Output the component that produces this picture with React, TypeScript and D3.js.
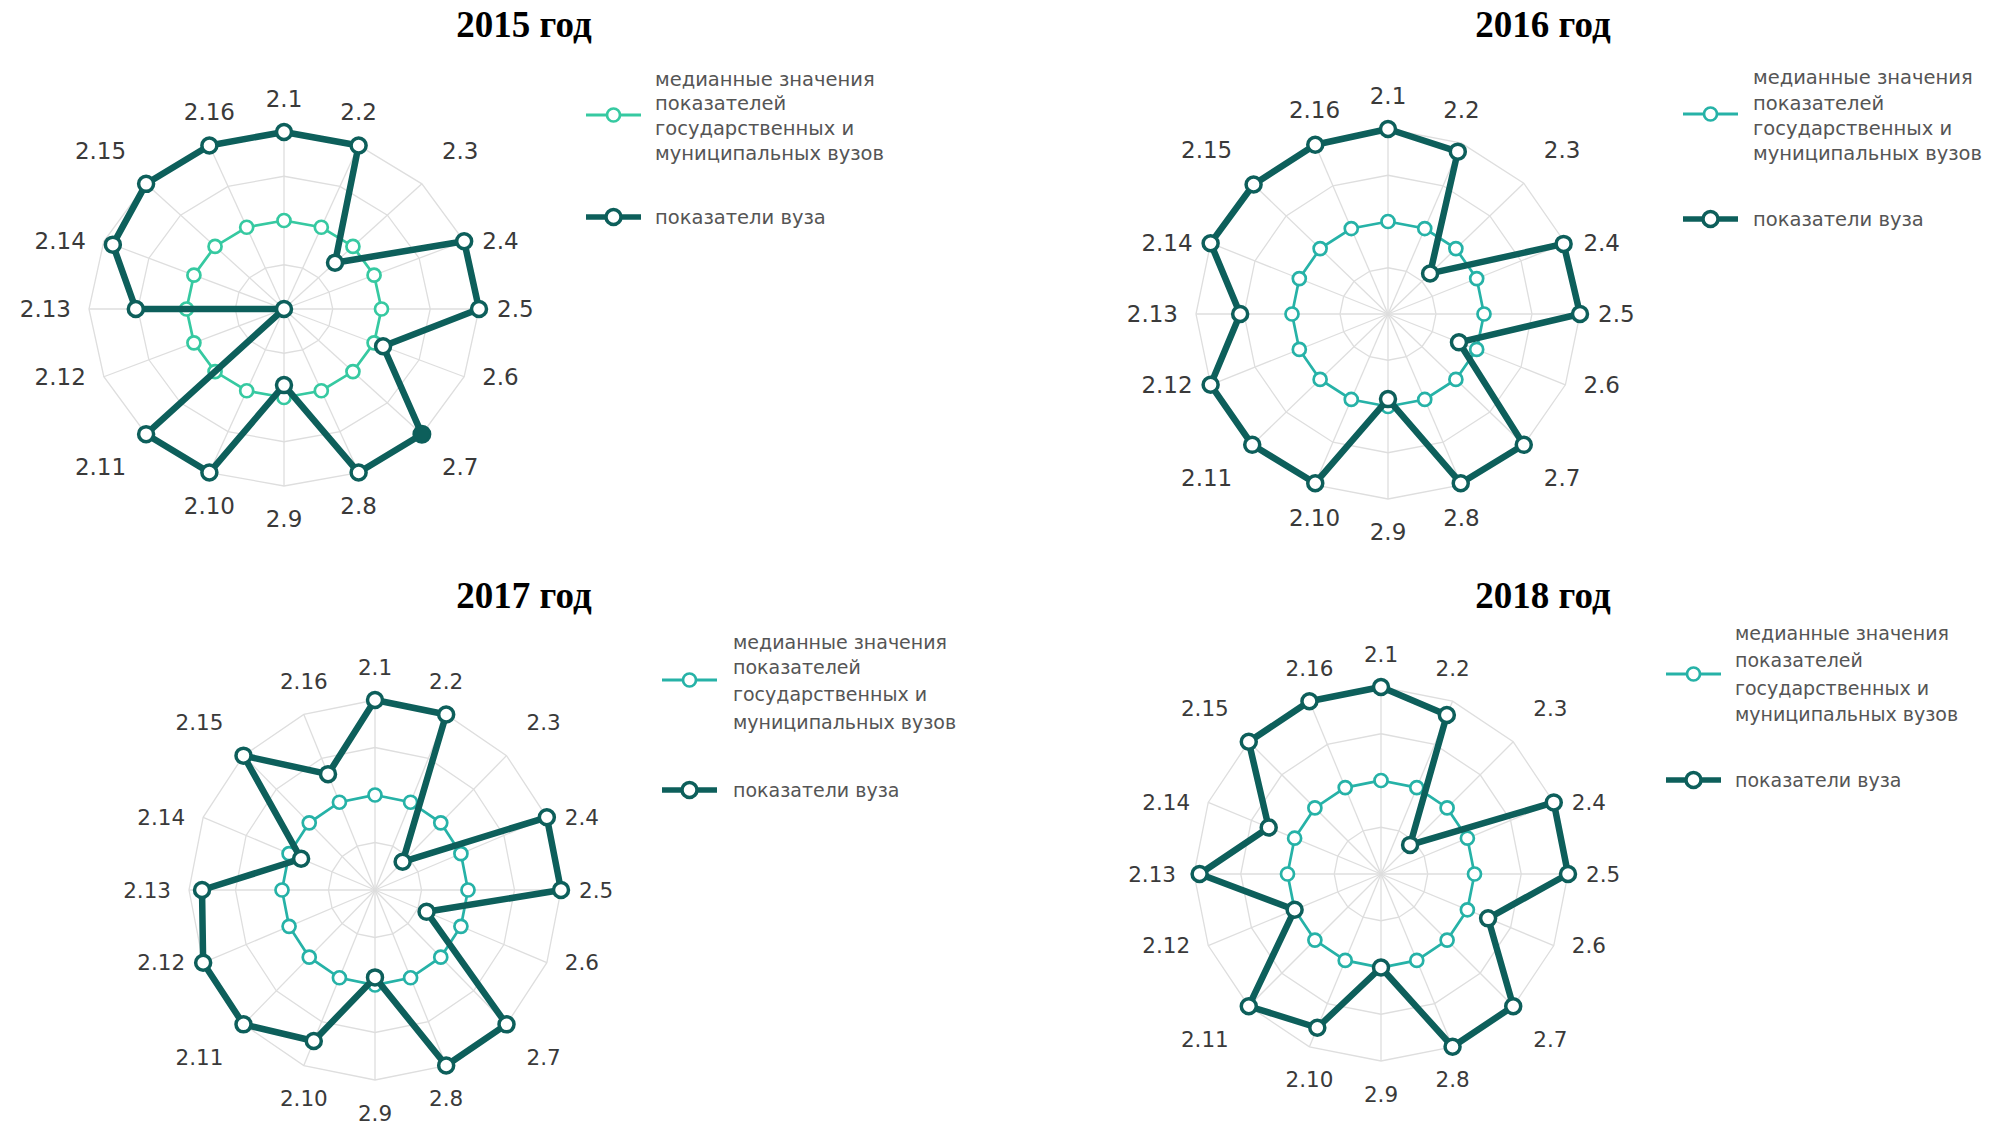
import React from 'react';
import * as d3 from 'd3';

const axisLabels = ['2.1', '2.2', '2.3', '2.4', '2.5', '2.6', '2.7', '2.8', '2.9', '2.10', '2.11', '2.12', '2.13', '2.14', '2.15', '2.16'];
const titles = ['2015 год', '2016 год', '2017 год', '2018 год'];
const legendMedian = ['медианные значения', 'показателей', 'государственных и', 'муниципальных вузов'];
const legendUniv = 'показатели вуза';
const ringLevels = [0.25, 0.5, 0.75, 1];

// median of state and municipal universities (normalized)
const median2015 = [0.5, 0.5, 0.5, 0.5, 0.5, 0.5, 0.5, 0.5, 0.5, 0.5, 0.5, 0.5, 0.5, 0.5, 0.5, 0.5];
const median2016 = [0.5, 0.5, 0.5, 0.5, 0.5, 0.5, 0.5, 0.5, 0.5, 0.5, 0.5, 0.5, 0.5, 0.5, 0.5, 0.5];
const median2017 = [0.5, 0.5, 0.5, 0.5, 0.5, 0.5, 0.5, 0.5, 0.5, 0.5, 0.5, 0.5, 0.5, 0.5, 0.5, 0.5];
const median2018 = [0.5, 0.5, 0.5, 0.5, 0.5, 0.5, 0.5, 0.5, 0.5, 0.5, 0.5, 0.5, 0.5, 0.5, 0.5, 0.5];

// university values
const univ2015 = [1.0, 1.0, 0.37, 1.0, 1.0, 0.55, 1.0, 1.0, 0.43, 1.0, 1.0, 0, 0.76, 0.95, 1.0, 1.0];
const univ2016 = [1.0, 0.95, 0.31, 0.99, 1.0, 0.40, 1.0, 0.99, 0.46, 0.99, 1.0, 1.0, 0.77, 1.0, 0.99, 0.99];
const univ2017 = [1.0, 1.0, 0.21, 1.0, 1.0, 0.30, 1.0, 1.0, 0.46, 0.86, 1.0, 1.0, 0.93, 0.43, 1.0, 0.66];
const univ2018 = [1.0, 0.92, 0.22, 1.0, 1.0, 0.62, 1.0, 1.0, 0.50, 0.89, 1.0, 0.50, 0.97, 0.65, 1.0, 1.0];

const darkColor = '#0d5f5b';
const gridColor = '#dedede';

const panels = [
  { title: titles[0], median: median2015, univ: univ2015, cx: 284, cy: 309, rx: 195, ry: 177, tx: 524, ty: 37,
    medColor: '#36c9a1', lx: 586, medY: 115, textX: 655, lines: [79, 103, 128, 153], univY: 217, hover: 6,
    labSize: 23, legSize: 19.5 },
  { title: titles[1], median: median2016, univ: univ2016, cx: 1388, cy: 314, rx: 192, ry: 185, tx: 1543, ty: 37,
    medColor: '#26b2a7', lx: 1683, medY: 114, textX: 1753, lines: [77, 103, 128, 153], univY: 219, hover: -1,
    labSize: 23, legSize: 19.5 },
  { title: titles[2], median: median2017, univ: univ2017, cx: 375, cy: 890, rx: 186, ry: 190, tx: 524, ty: 608,
    medColor: '#26b2a7', lx: 662, medY: 680, textX: 733, lines: [642, 667, 694, 722], univY: 790, hover: -1,
    labSize: 21.5, legSize: 19 },
  { title: titles[3], median: median2018, univ: univ2018, cx: 1381, cy: 874, rx: 187, ry: 187, tx: 1543, ty: 608,
    medColor: '#26b2a7', lx: 1666, medY: 674, textX: 1735, lines: [633, 660, 688, 714], univY: 780, hover: -1,
    labSize: 21.5, legSize: 19 },
];

function Radar({ p }) {
  const n = axisLabels.length;
  const ang = d3.scaleLinear().domain([0, n]).range([0, 2 * Math.PI]);
  const sx = d3.scaleLinear().domain([0, 1]).range([0, p.rx]);
  const sy = d3.scaleLinear().domain([0, 1]).range([0, p.ry]);
  const px = (v, i) => p.cx + sx(v) * Math.sin(ang(i));
  const py = (v, i) => p.cy - sy(v) * Math.cos(ang(i));

  const line = d3.line()
    .x((d) => px(d[0], d[1]))
    .y((d) => py(d[0], d[1]))
    .curve(d3.curveLinearClosed);

  const medPts = p.median.map((v, i) => [v, i]);
  const univPts = p.univ.map((v, i) => [v, i]);

  const lw = 55;

  return (
    <g>
      <text x={p.tx} y={p.ty} textAnchor="middle" fontFamily="'Liberation Serif', 'Times New Roman', serif"
            fontWeight="bold" fontSize={37} fill="#000">{p.title}</text>

      {ringLevels.map((r) => (
        <path key={r} d={line(d3.range(n).map((i) => [r, i]))} fill="none" stroke={gridColor} strokeWidth={1.3} />
      ))}
      {d3.range(n).map((i) => (
        <line key={i} x1={p.cx} y1={p.cy} x2={px(1, i)} y2={py(1, i)} stroke={gridColor} strokeWidth={1.3} />
      ))}

      {axisLabels.map((lab, i) => {
        const s = Math.sin(ang(i));
        const c = Math.cos(ang(i));
        let x = px(1, i);
        let y = py(1, i);
        let anchor = 'middle';
        if (Math.abs(s) < 0.5) {
          y -= 33 * Math.sign(c);
        } else if (Math.abs(c) > 0.5) {
          x += 20 * Math.sign(s);
          y -= 33 * Math.sign(c);
          anchor = s > 0 ? 'start' : 'end';
        } else {
          x += 18 * Math.sign(s);
          anchor = s > 0 ? 'start' : 'end';
        }
        return (
          <text key={lab} x={x} y={y} textAnchor={anchor} dominantBaseline="central"
                fontFamily="'DejaVu Sans', Verdana, sans-serif" fontSize={p.labSize} fill="#3a3a3a">{lab}</text>
        );
      })}

      <path d={line(medPts)} fill="none" stroke={p.medColor} strokeWidth={2.7} />
      {medPts.map((d) => (
        <circle key={d[1]} cx={px(d[0], d[1])} cy={py(d[0], d[1])} r={6.5} fill="#fff" stroke={p.medColor} strokeWidth={2.7} />
      ))}

      <path d={line(univPts)} fill="none" stroke={darkColor} strokeWidth={6.5} strokeLinejoin="round" />
      {univPts.map((d) => (
        d[1] === p.hover
          ? <circle key={d[1]} cx={px(d[0], d[1])} cy={py(d[0], d[1])} r={8.5} fill={darkColor} stroke={darkColor} strokeWidth={2} />
          : <circle key={d[1]} cx={px(d[0], d[1])} cy={py(d[0], d[1])} r={7.5} fill="#fff" stroke={darkColor} strokeWidth={3.5} />
      ))}

      {/* legend */}
      <line x1={p.lx} x2={p.lx + lw} y1={p.medY} y2={p.medY} stroke={p.medColor} strokeWidth={3} />
      <circle cx={p.lx + lw / 2} cy={p.medY} r={6.5} fill="#fff" stroke={p.medColor} strokeWidth={2.7} />
      {legendMedian.map((t, k) => (
        <text key={t} x={p.textX} y={p.lines[k]} dominantBaseline="central"
              fontFamily="'DejaVu Sans', Verdana, sans-serif" fontSize={p.legSize} fill="#555">{t}</text>
      ))}
      <line x1={p.lx} x2={p.lx + lw} y1={p.univY} y2={p.univY} stroke={darkColor} strokeWidth={5.5} />
      <circle cx={p.lx + lw / 2} cy={p.univY} r={7.5} fill="#fff" stroke={darkColor} strokeWidth={3.5} />
      <text x={p.textX} y={p.univY} dominantBaseline="central"
            fontFamily="'DejaVu Sans', Verdana, sans-serif" fontSize={p.legSize} fill="#555">{legendUniv}</text>
    </g>
  );
}

export default function App() {
  return (
    <svg width={1989} height={1130} style={{ position: 'absolute', left: 0, top: 0, background: '#fff' }}>
      {panels.map((p) => <Radar key={p.title} p={p} />)}
    </svg>
  );
}
